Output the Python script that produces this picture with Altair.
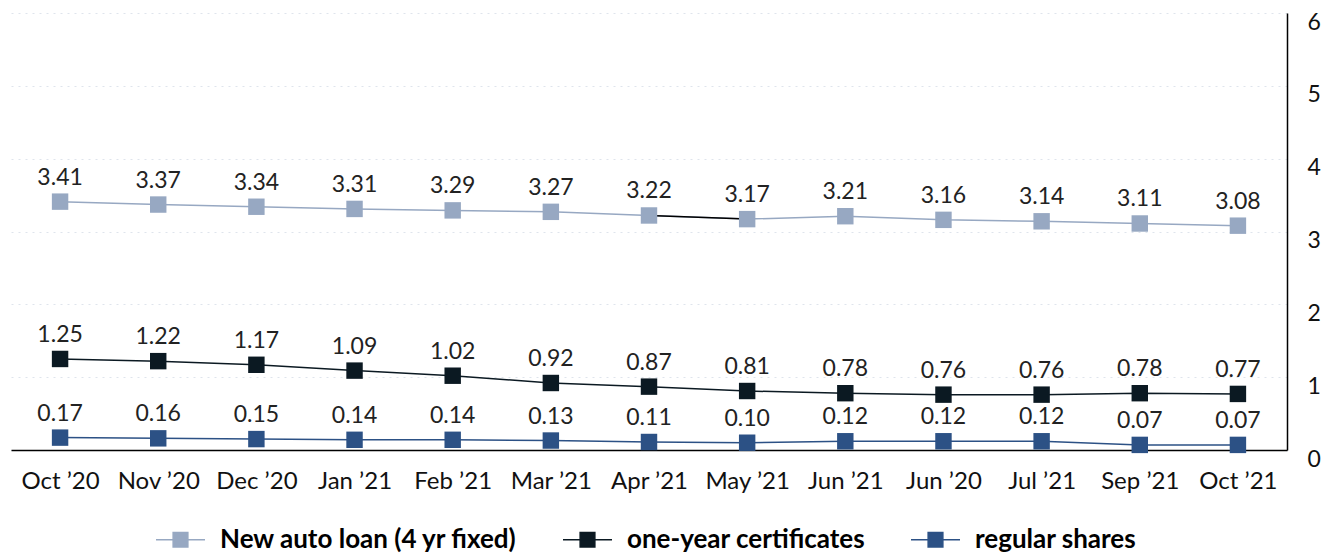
import altair as alt
import pandas as pd

months = ["Oct ’20", "Nov ’20", "Dec ’20", "Jan ’21", "Feb ’21", "Mar ’21", "Apr ’21",
          "May ’21", "Jun ’21", "Jun ’20", "Jul ’21", "Sep ’21", "Oct ’21"]
auto_loan = [3.41, 3.37, 3.34, 3.31, 3.29, 3.27, 3.22, 3.17, 3.21, 3.16, 3.14, 3.11, 3.08]
certificates = [1.25, 1.22, 1.17, 1.09, 1.02, 0.92, 0.87, 0.81, 0.78, 0.76, 0.76, 0.78, 0.77]
shares = [0.17, 0.16, 0.15, 0.14, 0.14, 0.13, 0.11, 0.10, 0.12, 0.12, 0.12, 0.07, 0.07]
series_names = ["New auto loan (4 yr fixed)", "one-year certificates", "regular shares"]
series_colors = ["#97a8c2", "#0b1922", "#2c5185"]
black_segment_months = ["Apr ’21", "May ’21"]

rows = []
for name, vals in zip(series_names, [auto_loan, certificates, shares]):
    for m, v in zip(months, vals):
        rows.append({"month": m, "value": v, "series": name, "label": f"{v:.2f}"})
df = pd.DataFrame(rows)
seg = df[(df.series == series_names[0]) & (df.month.isin(black_segment_months))]

FONT = "Lato"
x = alt.X("month:O", sort=months, title=None,
          axis=alt.Axis(labelAngle=0, ticks=False, domainColor="#000", domainWidth=1.5,
                        labelFontSize=24, labelColor="#111", labelPadding=19, grid=False,
                        labelFont=FONT))
y = alt.Y("value:Q", title=None, scale=alt.Scale(domain=[0, 6], nice=False),
          axis=alt.Axis(orient="right", values=[0, 1, 2, 3, 4, 5, 6], ticks=False,
                        domainColor="#000", domainWidth=1.5, labelFontSize=23,
                        labelColor="#111", labelPadding=20, labelOffset=9, labelFont=FONT,
                        grid=True, gridColor="#dfe4ec", gridDash=[2, 5], gridWidth=1))

scale = alt.Scale(domain=series_names, range=series_colors)
path = "M-1,0H1M-0.3,-0.3H0.3V0.3H-0.3Z"
legend = alt.Legend(title=None, orient="none", direction="horizontal", legendX=144, legendY=501,
                    symbolType=path, symbolSize=2400, symbolStrokeWidth=1.5,
                    labelFont=FONT, labelFontSize=26, labelFontWeight="bold", labelColor="#000",
                    columnPadding=42, labelOffset=14, labelLimit=500)

base = alt.Chart(df)
lines = base.mark_line(strokeWidth=1.5).encode(
    x=x, y=y, stroke=alt.Stroke("series:N", scale=scale, legend=legend, sort=series_names))
black = alt.Chart(seg).mark_line(strokeWidth=1.5, color="#000").encode(x=x, y=y)
points = base.mark_point(shape="square", filled=True, size=270, opacity=1).encode(
    x=x, y=y, fill=alt.Fill("series:N", scale=scale, legend=legend, sort=series_names))
labels = base.mark_text(fontSize=23, font=FONT, color="#222", baseline="alphabetic", dy=-17).encode(
    x=x, y=y, text="label:N")

chart = alt.layer(lines, black, points, labels).properties(
    width=1276, height=437,
    padding={"left": 3, "top": 5, "right": 40, "bottom": 104},
    autosize=alt.AutoSizeParams(type="none"),
).configure_view(stroke=None)

chart.save("out.html", embed_options={"renderer": "svg", "actions": False})
